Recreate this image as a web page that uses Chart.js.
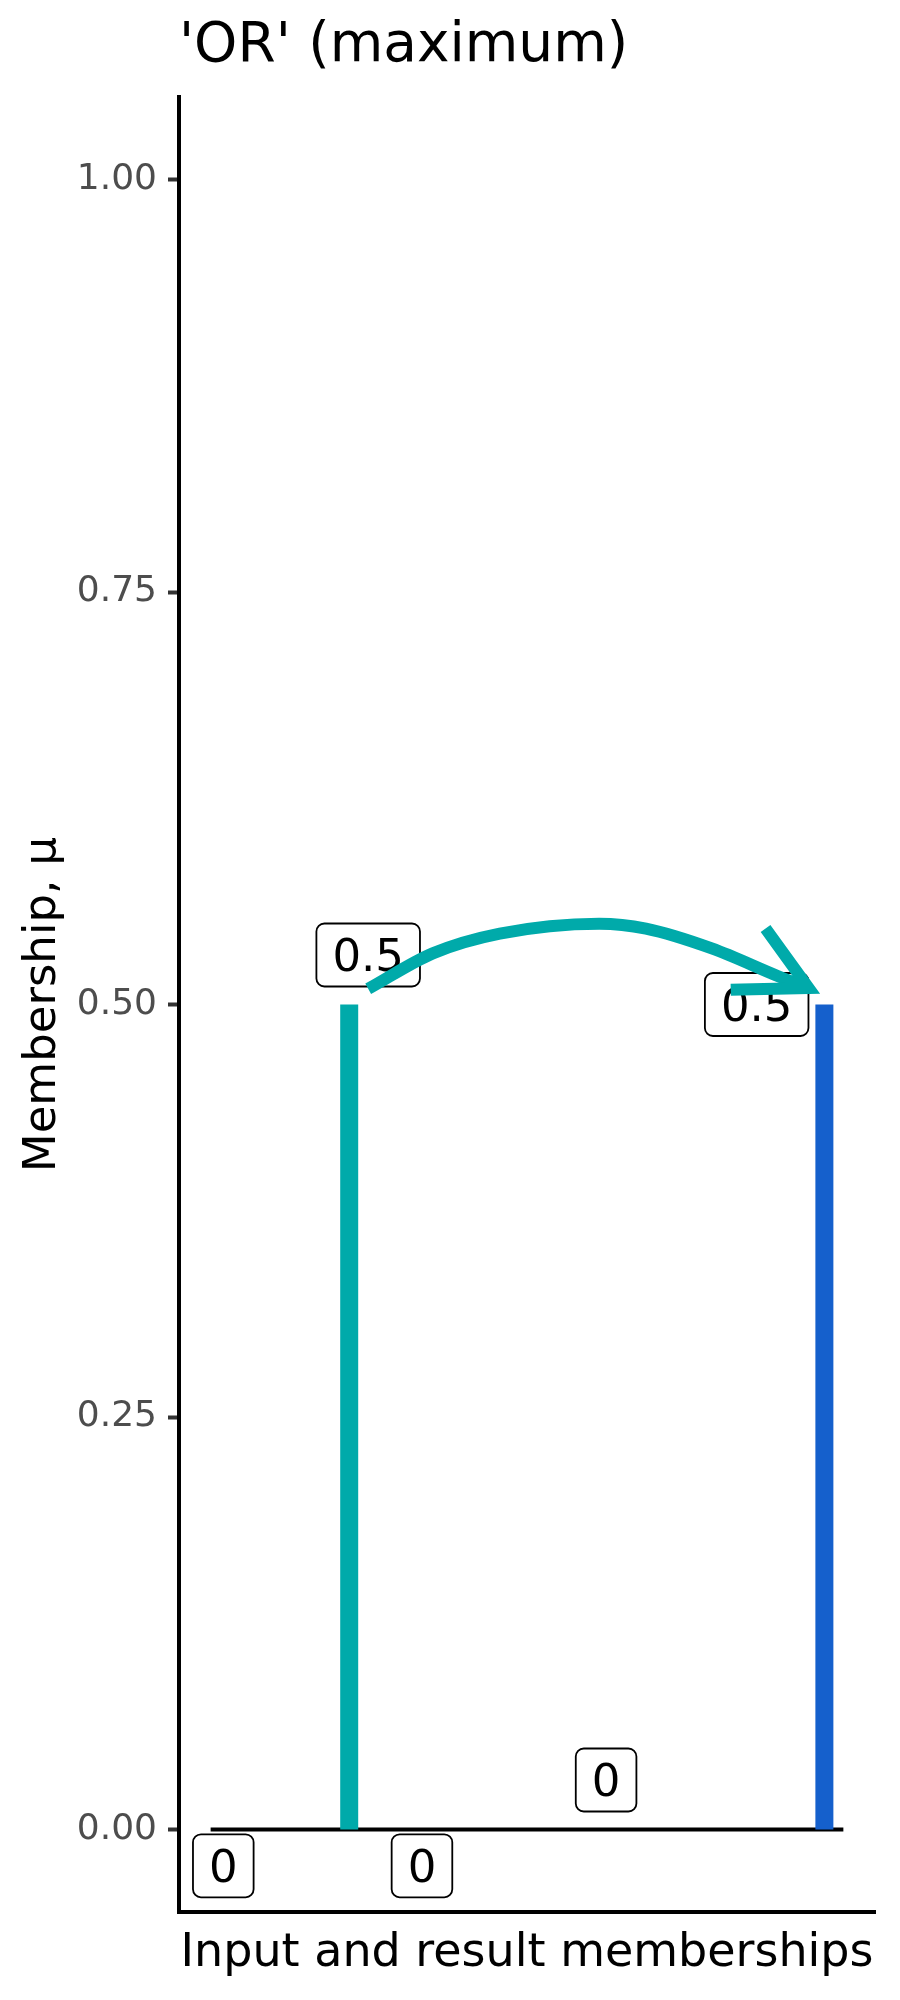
<!DOCTYPE html>
<html>
<head>
<meta charset="utf-8">
<script src="https://cdn.jsdelivr.net/npm/chart.js@4"></script>
<style>
body{margin:0;background:#fff}
canvas{display:block}
</style>
</head>
<body>
<canvas id="c" width="900" height="2000"></canvas>
<script>
const titleText="'OR' (maximum)";
const xTitle="Input and result memberships";
const yTitle="Membership, \u03bc";
const yTicks=[0,0.25,0.5,0.75,1];

/* bars: input and result memberships */
const barX=[0.219,0.970];
const barValues=[0.5,0.5];
const barColors=["#00AAAA","#1560CC"];

/* zero line */
const baseX=[0,1];
const baseY=[0,0];

/* boxed labels */
const labelText=["0","0","0","0.5","0.5"];
const labelX=[0.020,0.334,0.625,0.249,0.863];
const labelY=[-0.022,-0.022,0.030,0.530,0.500];

/* curved arrow */
const curveX=[0.249,0.351,0.457,0.614,0.688,0.792,0.898,0.945];
const curveY=[0.5095,0.531,0.543,0.549,0.546,0.534,0.517,0.510];
const headX=[0.877,0.945,0.822];
const headY=[0.546,0.510,0.509];

const F="'DejaVu Sans'";
const pts=(xs,ys)=>xs.map((x,i)=>({x:x,y:ys[i]}));

function line(d,color,width,extra){
return Object.assign({data:d,showLine:true,borderColor:color,backgroundColor:color,borderWidth:width,pointRadius:0,pointHoverRadius:0,tension:0,borderCapStyle:"butt"},extra||{});
}

/* labels go between the bars and the arrow */
const labelPlugin={
id:"boxLabels",
beforeDatasetDraw(chart,args){
if(args.index!==1) return;
const ctx=chart.ctx,xs=chart.scales.x,ys=chart.scales.y;
ctx.save();
ctx.font="45px "+F;
ctx.textAlign="center";
ctx.textBaseline="alphabetic";
labelText.forEach((t,i)=>{
let cx=xs.getPixelForValue(labelX[i]),cy=ys.getPixelForValue(labelY[i]);
let w=ctx.measureText(t).width+32,h=63;
ctx.beginPath();
ctx.roundRect(cx-w/2,cy-h/2,w,h,8);
ctx.fillStyle="#fff";ctx.fill();
ctx.lineWidth=1.8;ctx.strokeStyle="#000";ctx.stroke();
ctx.fillStyle="#000";
ctx.fillText(t,cx,cy+16.4);
});
ctx.restore();
}
};

new Chart(document.getElementById("c"),{
type:"scatter",
data:{datasets:[
line(pts(headX,headY),"#00AAAA",12,{borderJoinStyle:"miter"}),
line(pts(curveX,curveY),"#00AAAA",12,{cubicInterpolationMode:"monotone"}),
line([{x:barX[0],y:0},{x:barX[0],y:barValues[0]}],barColors[0],18),
line([{x:barX[1],y:0},{x:barX[1],y:barValues[1]}],barColors[1],18),
line(pts(baseX,baseY),"#000",4)
]},
options:{
responsive:false,
animation:false,
events:[],
layout:{padding:{left:0,right:25,top:0,bottom:0}},
plugins:{
legend:{display:false},
tooltip:{enabled:false},
title:{display:true,text:titleText,align:"start",fullSize:false,color:"#000",
font:{family:F,size:55,weight:"normal",lineHeight:1.2},padding:{top:13.5,bottom:17.5}}
},
scales:{
x:{type:"linear",min:-0.05,max:1.05,
ticks:{display:false},
grid:{display:false},
border:{display:true,color:"#000",width:4},
title:{display:true,text:xTitle,color:"#000",font:{family:F,size:46,lineHeight:1.2},padding:{top:0,bottom:18.5}},
afterFit(s){s.height=88;}
},
y:{type:"linear",min:-0.05,max:1.05,
afterBuildTicks(s){s.ticks=yTicks.map(v=>({value:v}));},
ticks:{color:"#4D4D4D",font:{family:F,size:36},padding:11,callback:v=>Number(v).toFixed(2)},
grid:{display:true,drawOnChartArea:false,drawTicks:true,tickLength:11,tickColor:"#333",tickWidth:4},
border:{display:true,color:"#000",width:4},
title:{display:true,text:yTitle,color:"#000",font:{family:F,size:45,lineHeight:1.2},padding:{top:16,bottom:0}},
afterFit(s){s.width=179;}
}
}
},
plugins:[labelPlugin]
});
</script>
</body>
</html>
